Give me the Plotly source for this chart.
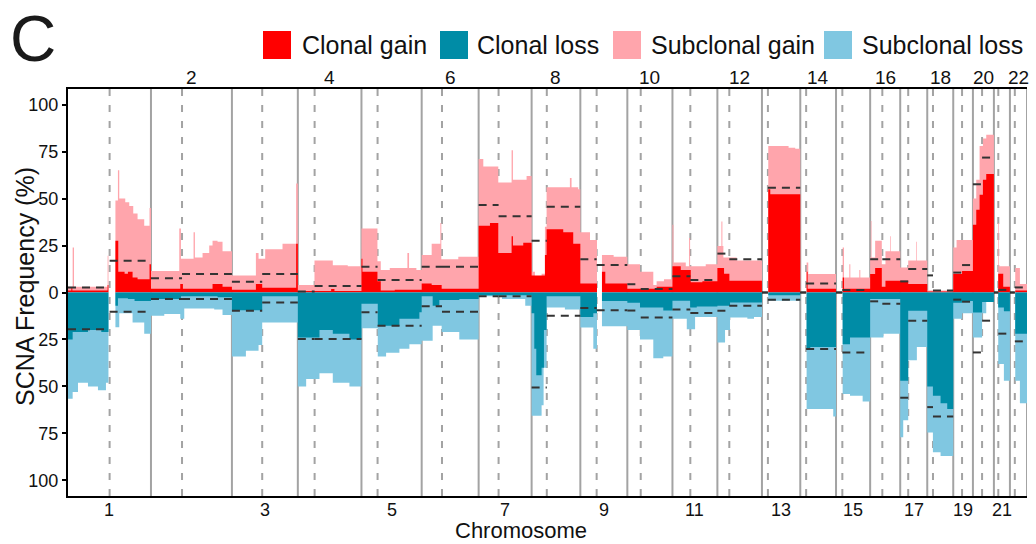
import plotly.graph_objects as go

# ---------------- data ----------------
CHROMS = list(range(1, 23))
CHROM_LEN = [249.25, 243.2, 198.02, 191.15, 180.92, 171.12, 159.14, 146.36, 141.21, 135.53, 135.01,
             133.85, 115.17, 107.35, 102.53, 90.35, 81.2, 78.08, 59.13, 63.03, 48.13, 51.3]
CENTRO = [125.0, 93.3, 91.0, 50.4, 48.4, 61.0, 59.9, 45.6, 49.0, 40.2, 53.7,
          35.8, 17.9, 17.6, 19.0, 36.6, 24.0, 17.2, 26.5, 27.5, 13.2, 14.7]

# segments: (start Mb within chromosome, frequency %)
# total gain = clonal + subclonal (stack top)
GAIN_TOTAL = {
    1: [(0, 3), (14, 24), (18, 3), (119, 19.5), (121.5, 0), (142.5, 49), (150, 65), (154, 50), (172, 48), (184, 46), (196, 42), (209, 39), (229, 35.5), (245, 45)],
    2: [(0, 11.5), (85, 34), (90, 18), (128, 32), (132, 18.6), (155, 21), (175, 25), (185, 27.5), (200, 27), (215, 22)],
    3: [(0, 9), (72, 21), (80, 18), (100, 23), (152, 26), (193, 58)],
    4: [(0, 4), (50, 17), (105, 14.5), (150, 14)],
    5: [(0, 34), (48, 16.6), (58, 12), (85, 13), (138, 21), (143, 13), (165, 12)],
    6: [(0, 20), (30, 26), (56, 37), (59, 17.7), (110, 19)],
    7: [(0, 71), (14, 67), (59, 58.5), (99, 75.7), (103, 60), (144, 62)],
    8: [(0, 11), (10, 7), (30, 10), (40, 35), (45, 56), (115, 61), (120, 56), (140, 55)],
    9: [(0, 32), (29, 28), (50, 0), (65, 20), (100, 19)],
    10: [(0, 15), (38, 11), (78, 4), (88, 6), (110, 7)],
    11: [(0, 36), (3, 16), (40, 14), (50, 29), (53, 14), (100, 15)],
    12: [(0, 24.8), (12, 37.8), (15, 24.8), (18, 18.6), (58, 17), (100, 17)],
    13: [(0, 0), (19, 78), (80, 77), (100, 76.5)],
    14: [(0, 0), (19, 16), (24, 9.8)],
    15: [(0, 0), (20, 24), (24, 8), (40, 15), (43, 8), (70, 12), (73, 8)],
    16: [(0, 18.6), (2, 38), (4, 18.6), (15, 27.5), (35, 15), (46, 22), (60, 30), (62, 22)],
    17: [(0, 13.3), (24, 17), (48, 27), (50, 17)],
    18: [(0, 1)],
    19: [(0, 24), (10, 28)],
    20: [(0, 50), (10, 60), (20, 78), (30, 82), (40, 84)],
    21: [(0, 0), (13, 37), (15, 14)],
    22: [(0, 0), (16, 13), (30, 4.5)],
}
GAIN_CLONAL = {
    1: [(0, 1), (10, 2.5), (13, 1), (119, 4), (121.5, 0), (142.5, 27.5), (151, 11), (170, 10), (180, 11), (194, 8), (209, 7), (245, 15)],
    2: [(0, 2), (88, 4.5), (96, 2), (185, 4.5), (215, 3)],
    3: [(0, 1.5), (72, 4.5), (91, 2.5), (193, 26)],
    4: [(0, 0.8), (100, 1.8), (110, 0.8)],
    5: [(0, 18), (3, 11), (48, 6), (58, 1), (100, 1.5)],
    6: [(0, 4.8), (30, 4), (60, 2)],
    7: [(0, 35.5), (34, 37), (59, 21), (99, 30), (103, 25), (134, 26.5)],
    8: [(0, 9), (40, 20), (45, 33.7), (95, 32), (125, 26)],
    9: [(0, 4.8), (50, 0), (65, 11), (75, 4.8)],
    10: [(0, 2), (88, 3)],
    11: [(0, 14), (25, 12), (55, 5.5), (90, 6)],
    12: [(0, 13), (20, 10), (36, 6.2)],
    13: [(0, 0), (19, 55), (25, 52.3)],
    14: [(0, 0), (19, 11), (22, 2)],
    15: [(0, 0), (20, 8), (24, 2)],
    16: [(0, 9.8), (15, 13), (35, 3), (46, 6.2)],
    17: [(0, 6.2), (24, 4.5)],
    18: [(0, 0.5)],
    19: [(0, 9.8), (26.5, 11.5)],
    20: [(0, 36), (10, 44), (20, 52), (30, 60), (40, 63)],
    21: [(0, 0), (13, 10), (28, 3)],
    22: [(0, 0), (16, 1)],
}
# total loss = clonal + subclonal (stack bottom)
LOSS_TOTAL = {
    1: [(0, 56.5), (14, 53), (30, 48), (60, 50), (90, 52), (114, 48), (121.5, 0), (142.5, 18.5), (154, 11), (194, 16), (229, 22)],
    2: [(0, 12.4), (40, 11.5), (88, 14), (100, 8.5), (190, 9), (215, 12)],
    3: [(0, 34), (42, 31), (80, 28), (91, 16)],
    4: [(0, 50), (25, 46), (65, 43), (105, 48), (155, 50)],
    5: [(0, 19), (49, 34), (74, 32), (114, 30), (144, 27.5)],
    6: [(0, 25.7), (33, 17.7), (60, 21), (113, 25)],
    7: [(0, 2), (70, 3.5), (140, 7)],
    8: [(0, 65.6), (30, 60), (36, 40), (45, 8), (100, 9)],
    9: [(0, 18.6), (39, 30), (50, 0), (65, 18)],
    10: [(0, 20), (38, 25), (78, 35), (108, 34)],
    11: [(0, 14), (43, 19.5), (68, 13)],
    12: [(0, 26.6), (23, 20), (38, 13.3), (90, 14), (110, 13)],
    13: [(0, 0), (19, 4.4)],
    14: [(0, 0), (19, 62), (99, 66)],
    15: [(0, 0), (20, 54), (42, 55), (80, 58)],
    16: [(0, 24), (40, 22)],
    17: [(0, 77), (9, 68), (24, 36), (50, 29)],
    18: [(0, 74.5), (17, 85), (40, 87)],
    19: [(0, 14), (26.5, 11)],
    20: [(0, 24), (27.5, 11), (40, 4.4)],
    21: [(0, 0), (13, 38), (30, 47)],
    22: [(0, 0), (16, 47), (30, 59)],
}
LOSS_CLONAL = {
    1: [(0, 25), (14, 21), (60, 20), (100, 21), (121.5, 0), (142.5, 7), (150, 3), (180, 3.5), (200, 4.5)],
    2: [(0, 3.5), (90, 2), (200, 2.5)],
    3: [(0, 9.5), (91, 2)],
    4: [(0, 24), (65, 20), (105, 22), (155, 25)],
    5: [(0, 6), (49, 17.7), (114, 14), (174, 10.5)],
    6: [(0, 2), (33, 7), (53, 4), (113, 3.5)],
    7: [(0, 1.5)],
    8: [(0, 11), (8, 30), (14, 44), (30, 40), (37, 20), (45, 2)],
    9: [(0, 13), (39, 11), (50, 0), (65, 4.5)],
    10: [(0, 5.5), (38, 8), (108, 9.6)],
    11: [(0, 4.4), (53, 8), (73, 7.5)],
    12: [(0, 7), (38, 5.3)],
    13: [(0, 0), (19, 1.5)],
    14: [(0, 0), (19, 30), (30, 29)],
    15: [(0, 0), (20, 27.5), (42, 24)],
    16: [(0, 3.5)],
    17: [(0, 47), (24, 9.7)],
    18: [(0, 50), (17, 55), (40, 59), (60, 62)],
    19: [(0, 5.5), (26.5, 4.5)],
    20: [(0, 10.6), (27.5, 5)],
    21: [(0, 0), (13, 8), (30, 10)],
    22: [(0, 0), (16, 22)],
}
# arm-level reference frequencies (dashed black marks)
GAIN_ARM_P = [2.7, 7.6, 5.7, 0.5, 13.7, 13.7, 46.6, 27.5, 17.7, 4.4, 8.6, 20.7, 0, 0, 0, 17.7, 5.9, 9.1, 10.6, 57.6, 0, 0]
GAIN_ARM_Q = [16.9, 9.8, 9.8, 3.4, 6.6, 13.7, 40.6, 45.6, 14.7, 1.8, 6.7, 17.7, 55.8, 4.8, 1.3, 17.7, 12.5, 1.1, 14.6, 71.8, 1.4, 2.7]
LOSS_ARM_P = [19.5, 3.5, 9.7, 24.8, 10.5, 7.3, 2, 50.5, 8.3, 9.6, 9.1, 9.7, 0, 0, 0, 4.7, 56, 61, 3.8, 31.9, 0, 0]
LOSS_ARM_Q = [10.3, 3.5, 5.3, 24.8, 17.7, 10.3, 2, 12.4, 9.4, 13.3, 10.9, 7, 3.8, 30.1, 31.9, 6, 15, 66, 4.9, 15, 21.9, 26]

Y_TICKS = [-100, -75, -50, -25, 0, 25, 50, 75, 100]
Y_TICK_TEXT = ["100", "75", "50", "25", "0", "25", "50", "75", "100"]
LEGEND_LABELS = ["Clonal gain", "Clonal loss", "Subclonal gain", "Subclonal loss"]

# ---------------- styles ----------------
C_CGAIN = "#FF0000"
C_CLOSS = "#008CA6"
C_SGAIN = "#FFA5AC"
C_SLOSS = "#80C7E1"
GRID_GRAY = "#A3A3A3"
FONT = "Arial, Liberation Sans, sans-serif"
TXT = "#111111"

OFFSETS = []
acc = 0.0
for L in CHROM_LEN:
    OFFSETS.append(acc)
    acc += L
GENOME = acc
MIDS = [o + L / 2 for o, L in zip(OFFSETS, CHROM_LEN)]


def step_xy(segs, sign):
    xs, ys = [], []
    for ci, c in enumerate(CHROMS):
        off, L = OFFSETS[ci], CHROM_LEN[ci]
        s = segs[c]
        for i, (mb, v) in enumerate(s):
            end = s[i + 1][0] if i + 1 < len(s) else L
            xs += [off + mb, off + end]
            ys += [sign * v, sign * v]
    return xs, ys


fig = go.Figure()
for segs, sign, col in [(GAIN_TOTAL, 1, C_SGAIN), (GAIN_CLONAL, 1, C_CGAIN),
                        (LOSS_TOTAL, -1, C_SLOSS), (LOSS_CLONAL, -1, C_CLOSS)]:
    xs, ys = step_xy(segs, sign)
    fig.add_trace(go.Scatter(x=xs, y=ys, mode="lines", line=dict(width=0, color=col),
                             fill="tozeroy", fillcolor=col, hoverinfo="skip", showlegend=False))

shapes = []
for ci in range(22):
    end = OFFSETS[ci] + CHROM_LEN[ci]
    shapes.append(dict(type="line", xref="x", yref="paper", x0=end, x1=end, y0=0, y1=1,
                       line=dict(color=GRID_GRAY, width=2), layer="below"))
    cx = OFFSETS[ci] + CENTRO[ci]
    shapes.append(dict(type="line", xref="x", yref="paper", x0=cx, x1=cx, y0=1, y1=0,
                       line=dict(color=GRID_GRAY, width=2, dash="7px,9px"), layer="below"))
for ci in range(22):
    off, cen, L = OFFSETS[ci], CENTRO[ci], CHROM_LEN[ci]
    for (a, b, v) in [(off, off + cen, GAIN_ARM_P[ci]), (off + cen, off + L, GAIN_ARM_Q[ci]),
                      (off, off + cen, -LOSS_ARM_P[ci]), (off + cen, off + L, -LOSS_ARM_Q[ci])]:
        shapes.append(dict(type="line", xref="x", yref="y", x0=a, x1=b, y0=v, y1=v,
                           line=dict(color="#333333", width=2, dash="8px,6px"), layer="above"))

# pixel -> paper helpers (layout only)
PL, PR, PT, PB = 68, 1027, 89, 496


def px(xp):
    return (xp - PL) / (PR - PL)


def py(yp):
    return (PB - yp) / (PB - PT)


annotations = []
legend_sq = [263, 440, 613, 824]
legend_txt = [300, 475, 649, 860]
for lab, col, sx, tx in zip(LEGEND_LABELS, [C_CGAIN, C_CLOSS, C_SGAIN, C_SLOSS], legend_sq, legend_txt):
    shapes.append(dict(type="rect", xref="paper", yref="paper", x0=px(sx), x1=px(sx + 28),
                       y0=py(59), y1=py(31), fillcolor=col, line=dict(width=0), layer="above"))
    annotations.append(dict(text=lab, xref="paper", yref="paper", x=px(tx), y=py(45.5),
                            xanchor="left", yanchor="middle", showarrow=False,
                            font=dict(size=25, color=TXT, family=FONT)))
annotations.append(dict(text="C", xref="paper", yref="paper", x=px(8), y=py(39),
                        xanchor="left", yanchor="middle", showarrow=False,
                        font=dict(size=64, color="#1a1a1a", family=FONT)))
# chromosome labels: odd below, even above
for ci, c in enumerate(CHROMS):
    top = (c % 2 == 0)
    annotations.append(dict(text=str(c), xref="x", yref="paper", x=MIDS[ci],
                            y=py(77.5) if top else py(509.5), xanchor="center", yanchor="middle",
                            showarrow=False, borderpad=0,
                            font=dict(size=19 if top else 18, color=TXT, family=FONT)))
annotations.append(dict(text="Chromosome", xref="paper", yref="paper", x=px(521), y=py(544),
                        xanchor="center", yanchor="bottom", showarrow=False, borderpad=0,
                        font=dict(size=22, color=TXT, family=FONT)))
annotations.append(dict(text="SCNA Frequency (%)", xref="paper", yref="paper", x=px(25), y=py(287),
                        xanchor="center", yanchor="middle", textangle=-90, showarrow=False,
                        font=dict(size=25, color=TXT, family=FONT)))

fig.update_layout(
    width=1036, height=544,
    margin=dict(l=PL, r=1036 - PR, t=PT, b=544 - PB),
    plot_bgcolor="white", paper_bgcolor="white",
    font=dict(family=FONT, color=TXT),
    shapes=shapes, annotations=annotations, showlegend=False,
    xaxis=dict(range=[0, GENOME], showgrid=False, zeroline=False, showline=True, mirror=True,
               linecolor="black", linewidth=2, showticklabels=False, ticks=""),
    yaxis=dict(range=[-108.3, 108.3], showgrid=False, zeroline=False, showline=True,
               linecolor="black", linewidth=2, tickvals=Y_TICKS, ticktext=Y_TICK_TEXT,
               ticks="outside", ticklen=4, tickwidth=1.5, tickcolor="black",
               tickfont=dict(size=18, color=TXT)),
)

fig.write_html("out.html")
